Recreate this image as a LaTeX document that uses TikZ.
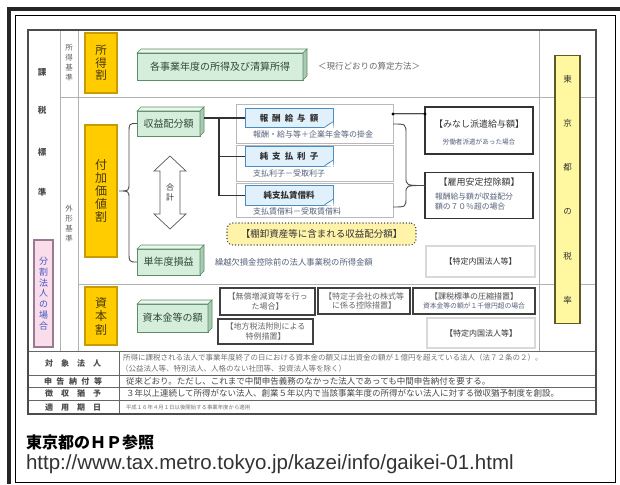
\documentclass[tikz,border=0pt]{standalone}
\usepackage{fontspec}
\setmainfont{Noto Sans CJK JP}
\newfontfamily\lib{Liberation Sans}
\usetikzlibrary{calc}
\definecolor{goldf}{HTML}{FFCC00}
\definecolor{goldd}{HTML}{C89B00}
\definecolor{goldline}{HTML}{5A4600}
\definecolor{goldtxt}{HTML}{4A3A00}
\definecolor{gfront}{HTML}{D5EEDB}
\definecolor{gtop}{HTML}{E9F7ED}
\definecolor{gside}{HTML}{A9CBB2}
\definecolor{gline}{HTML}{5E8C68}
\definecolor{gtxt}{HTML}{2F4A38}
\definecolor{bluef}{HTML}{E0F1FB}
\definecolor{bluel}{HTML}{4A8CC0}
\definecolor{pinkf}{HTML}{F9DDEB}
\definecolor{pinkl}{HTML}{9A7A92}
\definecolor{purplet}{HTML}{4455C8}
\definecolor{yelf}{HTML}{FFF8A0}
\definecolor{yell}{HTML}{5E5A28}
\definecolor{tanaf}{HTML}{FFF3AA}
\definecolor{txt}{HTML}{333333}
\definecolor{desc}{HTML}{55607A}
\newcommand\fs[2]{\fontsize{#1}{#2}\selectfont}
\newcommand\threeD[1]{%
  \filldraw[fill=gtop, draw=gline, line width=0.6pt] (#1.north west) -- ++(4,-4) -- ([shift={(4,-4)}]#1.north east) -- (#1.north east) -- cycle;
  \filldraw[fill=gside, draw=gline, line width=0.6pt] (#1.north east) -- ++(4,-4) -- ([shift={(4,-4)}]#1.south east) -- (#1.south east) -- cycle;}
\newcommand\dogear[1]{%
  \fill[white] ([xshift=-9pt]#1.south east) -- ([shift={(0.7pt,-0.7pt)}]#1.south east) -- ([yshift=6pt]#1.south east) -- cycle;
  \filldraw[fill=bluel!35, draw=bluel, line width=0.6pt, line join=round] ([xshift=-9pt]#1.south east) -- ([yshift=6pt]#1.south east) -- ([shift={(-5pt,3pt)}]#1.south east) -- cycle;}
\tikzset{
  gold/.style={fill=goldf, draw=goldline, line width=0.5pt, double=goldd, double distance=1.3pt, minimum width=32pt, align=center, text=goldtxt, font=\fs{11.5}{12.5}},
  greenbox/.style={fill=gfront, draw=gline, line width=0.6pt, font=\fs{10}{12}, text=gtxt},
  wbox/.style={draw=gray!55, line width=1pt, fill=white},
  lbl/.style={fill=bluef, draw=bluel, line width=0.8pt, minimum width=88pt, minimum height=19.5pt, font=\fs{8.5}{10}\bfseries, text=txt},
  dsc/.style={font=\fs{8}{9}, text=desc, anchor=west},
  bbox/.style={draw=black!80, line width=1.6pt, fill=white},
  gbox2/.style={draw=gray!70, line width=0.7pt, double=gray!30, double distance=1.2pt, fill=white, text=txt, font=\fs{8}{9}},
  kbox/.style={draw=black!75, line width=1.3pt, fill=white, align=center, font=\fs{8}{9.5}, text=black!60},
  tline/.style={draw=gray!60, line width=0.8pt},
  tlined/.style={draw=black!60, line width=0.8pt},
  conn/.style={draw=black!80, line width=1.1pt},
  brace/.style={draw=black!70, line width=0.9pt},
  lc/.style={font=\fs{8.5}{10}\bfseries, text=black!70},
  tlab/.style={font=\fs{8}{9}\bfseries, text=black!70},
  ttxt/.style={anchor=west, text=black!55}
}
\begin{document}
\begin{tikzpicture}[x=1pt,y=-1pt]
\tikzset{every node/.style={inner sep=0pt,outer sep=0pt}}
\useasboundingbox (0,0) rectangle (620,484);
\fill[white] (0,0) rectangle (620,484);
% outer frame
\draw[line width=4pt, black!85] (9,484) -- (9,9) -- (620,9);
\draw[line width=0.9pt] (15,15) rectangle (615,482);
% table grid
\draw[tline] (60,30) -- (60,351);
\draw[tline] (78,30) -- (78,351);
\draw[tline] (539,30) -- (539,351);
\draw[tline] (60,97) -- (596,97);
\draw[tline] (78,284) -- (596,284);
\draw[tlined] (28,351) -- (596,351);
\draw[tlined] (28,375) -- (596,375);
\draw[tlined] (28,387) -- (596,387);
\draw[tlined] (28,400) -- (596,400);
\draw[tlined] (119,351) -- (119,414);
\draw[draw=black!70, line width=1.2pt] (28,30) rectangle (596,414);
% left column
\node[lc] (c1) at (42,72) {課};
\node[lc] (c2) at (42,110) {税};
\node[lc] (c3) at (42,152) {標};
\node[lc] (c4) at (42,192) {準};
\node[font=\fs{7.5}{10}, align=center, text=gray!75!black] (sk) at (69,63) {所\\得\\基\\準};
\node[font=\fs{7.5}{10}, align=center, text=gray!75!black] (gk) at (69,224) {外\\形\\基\\準};
\node[draw=pinkl, line width=1.6pt, fill=pinkf, minimum width=19pt, minimum height=107pt, align=center, font=\fs{9}{10.8}, text=purplet] (bunkatsu) at (43.5,293.5) {分\\割\\法\\人\\の\\場\\合};
% gold boxes
\node[gold, minimum height=60pt] (shotoku) at (101,63) {所\\得\\割};
\node[gold, minimum height=132pt, font=\fs{12}{13}] (fuka) at (101,191) {付\\加\\価\\値\\割};
\node[gold, minimum height=58pt, font=\fs{12}{13.5}] (shihon) at (101,316) {資\\本\\割};
% green boxes
\node[greenbox, minimum width=166pt, minimum height=27pt] (kaku) at (220,66.5) {各事業年度の所得及び清算所得};
\node[greenbox, minimum width=63pt, minimum height=25pt] (rev) at (168.5,123.5) {収益配分額};
\node[greenbox, minimum width=63pt, minimum height=26pt] (tan) at (168.5,262) {単年度損益};
\node[greenbox, minimum width=71pt, minimum height=28pt] (cap) at (172.5,318) {資本金等の額};
\threeD{kaku}
\threeD{rev}
\threeD{tan}
\threeD{cap}
\node[font=\fs{8.5}{10}, text=gray!80!black, anchor=west] (genko) at (318,66) {＜現行どおりの算定方法＞};
% white boxes with labels
\node[wbox, minimum width=157pt, minimum height=38pt] (b1) at (314.5,124) {};
\node[wbox, minimum width=157pt, minimum height=36pt] (b2) at (314.5,163) {};
\node[wbox, minimum width=157pt, minimum height=34pt] (b3) at (314.5,200) {};
\node[lbl] (lab1) at (289,118) {報\hspace{4pt}酬\hspace{4pt}給\hspace{4pt}与\hspace{4pt}額};
\node[lbl] (lab2) at (289,156.5) {純\hspace{4pt}支\hspace{4pt}払\hspace{4pt}利\hspace{4pt}子};
\node[lbl] (lab3) at (289,195.5) {純支払賃借料};
\dogear{lab1}
\dogear{lab2}
\dogear{lab3}
\node[dsc] (d1) at (253,134) {報酬・給与等＋企業年金等の掛金};
\node[dsc] (d2) at (253,173) {支払利子－受取利子};
\node[dsc] (d3) at (253,211) {支払賃借料－受取賃借料};
% right boxes
\node[bbox, minimum width=108pt, minimum height=47pt] (minashi) at (479,130.5) {};
\node[font=\fs{9}{10}, text=txt] (minashiT) at (479,124) {【みなし派遣給与額】};
\node[font=\fs{6.6}{8}, text=desc] (minashiS) at (479,142) {労働者派遣があった場合};
\node[bbox, minimum width=108pt, minimum height=46pt] (koyo) at (479,195.5) {};
\node[font=\fs{9}{10}, text=txt] (koyoT) at (479,182) {【雇用安定控除額】};
\node[font=\fs{7.8}{10}, text=desc, align=left, anchor=north west] (koyoS) at (435,193) {報酬給与額が収益配分\\額の７０％超の場合};
\node[gbox2, minimum width=109pt, minimum height=31pt] (tok1) at (480.5,261.5) {【特定内国法人等】};
\node[draw=black!70, dotted, line width=1.1pt, fill=tanaf, rounded corners=6pt, minimum width=189pt, minimum height=22pt, font=\fs{9.5}{11}, text=txt] (tana) at (321.5,234) {【棚卸資産等に含まれる収益配分額】};
\node[font=\fs{8.3}{9}, text=desc, anchor=west] (kuri) at (215,262) {繰越欠損金控除前の法人事業税の所得金額};
% sum arrow
\draw[gray!70!black, line width=0.7pt, fill=white] (170,156) -- (186,171) -- (180,171) -- (180,214) -- (186,214) -- (170,229) -- (154,214) -- (160,214) -- (160,171) -- (154,171) -- cycle;
\node[font=\fs{8}{10}, align=center, text=txt] (gokei) at (170,192) {合\\計};
% capital row boxes
\node[kbox, minimum width=95pt, minimum height=27pt] (mushou) at (267.5,301.5) {【無償増減資等を行っ\\た場合】};
\node[kbox, minimum width=95pt, minimum height=25pt] (chiho) at (265.5,331.5) {【地方税法附則による\\特例措置】};
\node[kbox, minimum width=92pt, minimum height=26pt] (kogai) at (364,301) {【特定子会社の株式等\\に係る控除措置】};
\node[kbox, minimum width=122pt, minimum height=26pt, text=black!70] (kazei) at (474,301) {【課税標準の圧縮措置】\\{\fs{6.8}{8}\color{desc}資本金等の額が１千億円超の場合}};
\node[gbox2, minimum width=108pt, minimum height=30pt] (tok2) at (481,333) {【特定内国法人等】};
% Tokyo tax rate
\node[draw=yell, line width=1.6pt, fill=yelf, minimum width=25pt, minimum height=268pt, align=center, font=\fs{8.5}{44.2}, text=txt] (tokyo) at (567.5,189.5) {東\\京\\都\\の\\税\\率};
% connectors
\path ([xshift=4pt]rev.east) coordinate (revR);
\coordinate (trunk) at (219,0);
\draw[conn] (revR |- lab1.west) -- (lab1.west);
\draw[conn] (trunk |- lab1.west) -- (trunk |- lab3.west) -- (lab3.west);
\draw[conn] (trunk |- lab2.west) -- (lab2.west);
\path ([xshift=2pt]fuka.east) coordinate (ltip);
\draw[brace] (rev.west) .. controls (129,123.5) .. (129,133) -- (129,183) .. controls (129,191) .. (ltip) .. controls (129,191) .. (129,199) -- (129,252) .. controls (129,262) .. (tan.west);
\path ([yshift=10pt]koyo.west) coordinate (rtip);
\path ([yshift=-7pt]b3.east) coordinate (b3e);
\draw[brace] (b1.east) .. controls (406,124) .. (406,134) -- (406,177) .. controls (406,185.5) .. (rtip) .. controls (406,185.5) .. (406,193) -- (406,197) .. controls (406,207) .. (b3e);
\path ([yshift=-9pt]b1.north east) coordinate (ml);
\draw[draw=black!70, line width=0.5pt, double=gray!40, double distance=1pt] (ml) -- (ml -| minashi.west);
\fill[black] (ml) circle[radius=1.7pt];
\fill[black] (ml -| minashi.west) circle[radius=1.7pt];
% bottom table
\node[tlab] (r1) at (73,363) {対\hspace{8pt}象\hspace{8pt}法\hspace{8pt}人};
\node[tlab] (r2) at (73,381) {申\hspace{4.5pt}告\hspace{4.5pt}納\hspace{4.5pt}付\hspace{4.5pt}等};
\node[tlab] (r3) at (73,393.5) {徴\hspace{8pt}収\hspace{8pt}猶\hspace{8pt}予};
\node[tlab] (r4) at (73,407) {適\hspace{8pt}用\hspace{8pt}期\hspace{8pt}日};
\node[ttxt, font=\fs{7.5}{9}] (t1a) at (123,358) {所得に課税される法人で事業年度終了の日における資本金の額又は出資金の額が１億円を超えている法人（法７２条の２）。};
\node[ttxt, font=\fs{7.5}{9}] (t1b) at (121,369) {（公益法人等、特別法人、人格のない社団等、投資法人等を除く）};
\node[ttxt, font=\fs{8.5}{9}, text=black!72] (t2) at (126,381) {従来どおり。ただし、これまで中間申告義務のなかった法人であっても中間申告納付を要する。};
\node[ttxt, font=\fs{8.5}{9}, text=black!72] (t3) at (126,393.5) {３年以上連続して所得がない法人、創業５年以内で当該事業年度の所得がない法人に対する徴収猶予制度を創設。};
\node[ttxt, font=\fs{5.4}{6}] (t4) at (126,407) {平成１６年４月１日以後開始する事業年度から適用};
% footer
\node[anchor=west, font=\fs{16}{18}\bfseries] (hp) at (26,442) {東京都のＨＰ参照};
\node[anchor=west, font=\lib\fs{20.5}{22}, text=black!80] (url) at (26,464) {http://www.tax.metro.tokyo.jp/kazei/info/gaikei-01.html};
\end{tikzpicture}
\end{document}
